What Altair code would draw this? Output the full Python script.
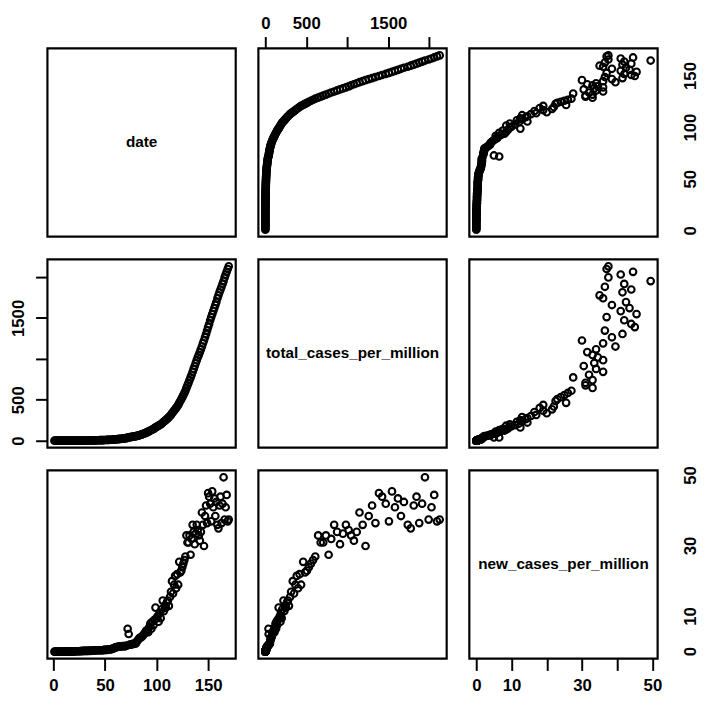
import altair as alt
import pandas as pd

date = list(range(1, 171))

total_cases_per_million = [
    0.1, 0.1, 0.1, 0.1, 0.1, 0.1, 0.1, 0.1, 0.1, 0.1,
    0.2, 0.2, 0.2, 0.2, 0.3, 0.3, 0.3, 0.4, 0.4, 0.4,
    0.5, 0.6, 0.7, 0.8, 0.9, 1.0, 1.2, 1.3, 1.5, 1.7,
    1.9, 2.1, 2.3, 2.5, 2.8, 3.0, 3.3, 3.6, 3.9, 4.2,
    4.4, 4.8, 5.2, 5.6, 6.0, 6.4, 6.8, 7.2, 7.7, 8.2,
    8.7, 9.2, 9.8, 10.4, 11.0, 11.7, 12.5, 13.4, 14.4, 15.6,
    16.9, 18.2, 19.6, 21.0, 22.5, 24.0, 25.6, 27.2, 28.7, 30.3,
    32.0, 38.5, 40.5, 42.5, 44.5, 46.6, 48.8, 51.0, 53.3, 55.6,
    58.5, 61.8, 65.5, 69.5, 73.5, 77.8, 82.5, 87.5, 93.0, 99.0,
    105.0, 111.0, 117.5, 124.0, 130.5, 137.0, 143.5, 150.0, 162.5, 169.0,
    176.0, 183.5, 191.0, 199.0, 207.0, 221.5, 231.0, 241.5, 252.5, 264.0,
    276.0, 288.5, 301.5, 315.0, 335.0, 350.5, 366.5, 383.0, 400.0, 418.0,
    437.0, 462.5, 485.0, 508.0, 532.0, 557.0, 583.0, 610.0, 645.0, 676.0,
    707.0, 740.0, 773.0, 805.0, 841.0, 877.0, 912.0, 948.0, 984.0, 1018.0,
    1048.0, 1082.0, 1116.0, 1150.0, 1189.0, 1224.0, 1263.0, 1304.0, 1345.0, 1388.0,
    1426.0, 1471.0, 1510.0, 1547.0, 1583.0, 1620.0, 1657.0, 1693.0, 1740.0, 1776.0,
    1813.0, 1847.0, 1880.0, 1915.0, 1950.0, 1995.0, 2030.0, 2063.0, 2097.0, 2130.0,
]

new_cases_per_million = [
    0, 0, 0, 0, 0, 0, 0, 0, 0, 0,
    0.1, 0, 0, 0, 0.1, 0, 0, 0.1, 0, 0,
    0.1, 0.1, 0.1, 0.1, 0.1, 0.1, 0.2, 0.1, 0.2, 0.2,
    0.2, 0.2, 0.2, 0.2, 0.3, 0.2, 0.3, 0.3, 0.3, 0.3,
    0.4, 0.4, 0.4, 0.4, 0.4, 0.4, 0.4, 0.4, 0.5, 0.5,
    0.5, 0.5, 0.6, 0.6, 0.6, 0.7, 0.8, 0.9, 1.0, 1.2,
    1.3, 1.3, 1.4, 1.4, 1.5, 1.5, 1.6, 1.6, 1.5, 1.6,
    1.7, 6.5, 5.0, 2.0, 2.0, 2.1, 2.2, 2.2, 2.3, 2.3,
    2.9, 3.3, 3.7, 4.0, 4.0, 4.3, 4.7, 5.0, 5.5, 6.0,
    6.0, 5.5, 7.0, 8.0, 6.5, 8.5, 7.5, 9.0, 12.5, 9.5,
    10.0, 8.5, 11.0, 9.5, 12.0, 14.5, 11.5, 13.0, 12.5, 14.0,
    14.5, 13.0, 15.5, 17.0, 20.0, 16.5, 19.0, 21.5, 18.0, 22.0,
    19.0, 25.5, 22.5, 23.0, 24.0, 25.0, 26.0, 27.0, 33.0, 31.0,
    31.0, 33.0, 27.5, 32.0, 36.0, 34.0, 30.5, 33.5, 36.0, 34.5,
    33.0, 31.5, 34.0, 39.5, 36.0, 30.0, 38.5, 41.5, 36.5, 45.0,
    44.0, 42.0, 37.0, 45.5, 41.0, 43.5, 38.5, 42.5, 36.0, 35.0,
    41.5, 44.0, 36.5, 42.0, 49.5, 37.5, 41.0, 44.5, 37.0, 37.5,
]

names = ["date", "total_cases_per_million", "new_cases_per_million"]
tick_values = {
    "date": [0, 50, 100, 150],
    "total_cases_per_million": [0, 500, 1000, 1500, 2000],
    "new_cases_per_million": [0, 10, 20, 30, 40, 50],
}
hidden_labels = {
    "date": [],
    "total_cases_per_million": [1000, 2000],
    "new_cases_per_million": [20, 40],
}

df = pd.DataFrame({
    "date": date,
    "total_cases_per_million": total_cases_per_million,
    "new_cases_per_million": new_cases_per_million,
})
series = {n: df[n].tolist() for n in names}


def domain(v):
    lo, hi = min(v), max(v)
    r = hi - lo
    return [lo - 0.04 * r, hi + 0.04 * r]


W, H = 191, 191
FONT = "Liberation Sans, Arial, Helvetica, sans-serif"
RIGHT_LABEL_X = W + 34


def scale_for(var):
    return alt.Scale(domain=domain(series[var]), nice=False, zero=False)


def make_axis(var, orient):
    kw = dict(
        orient=orient, values=tick_values[var], format="d", title=None,
        tickSize=12, tickWidth=2, tickColor="black", domain=False, grid=False,
        labelFont=FONT, labelFontSize=17, labelFontWeight="bold",
        labelColor="black", labelFlush=False, labelOverlap=False,
    )
    if hidden_labels[var]:
        kw["labelExpr"] = "indexof(%s, datum.value) >= 0 ? '' : datum.label" % (
            str(hidden_labels[var]))
    if orient == "top":
        kw.update(labelPadding=4.5)
    elif orient == "bottom":
        kw.update(labelPadding=7)
    elif orient == "left":
        kw.update(labelAngle=270, labelAlign="center", labelBaseline="middle",
                  labelPadding=17)
    elif orient == "right":
        kw.pop("labelExpr", None)
        kw.update(labels=False)
    return alt.Axis(**kw)


def right_labels(var):
    vals = [v for v in tick_values[var] if v not in hidden_labels[var]]
    lab_df = pd.DataFrame({"tick": vals, "text": [str(v) for v in vals]})
    return alt.Chart(lab_df).mark_text(
        angle=270, align="center", baseline="middle", font=FONT,
        fontSize=17, fontWeight="bold", color="black",
    ).encode(
        y=alt.Y("tick:Q", scale=scale_for(var), axis=None),
        text="text:N",
        x=alt.value(RIGHT_LABEL_X),
    )


def x_axis(i, j):
    if i == 0 and j == 1:
        return make_axis(names[j], "top")
    if i == 2 and j in (0, 2):
        return make_axis(names[j], "bottom")
    return None


def y_axis(i, j):
    if j == 2 and i in (0, 2):
        return make_axis(names[i], "right")
    if j == 0 and i == 1:
        return make_axis(names[i], "left")
    return None


panels = []
for i in range(3):
    for j in range(3):
        xv, yv = names[j], names[i]
        xa, ya = x_axis(i, j), y_axis(i, j)
        xenc = alt.X(xv, type="quantitative", scale=scale_for(xv), axis=xa)
        yenc = alt.Y(yv, type="quantitative", scale=scale_for(yv), axis=ya)
        if i == j:
            layers = [alt.Chart(df).mark_point(opacity=0).encode(x=xenc, y=yenc)]
            layers.append(alt.Chart(pd.DataFrame({"label": [names[i]]})).mark_text(
                font=FONT, fontSize=15.5, fontWeight="bold", color="black",
                align="center", baseline="middle",
            ).encode(text="label:N", x=alt.value(W / 2), y=alt.value(H / 2)))
        else:
            layers = [alt.Chart(df).mark_point(
                shape="circle", filled=False, stroke="black", strokeWidth=2.1,
                size=45, opacity=1,
            ).encode(x=xenc, y=yenc)]
        if j == 2 and i in (0, 2):
            layers.append(right_labels(yv))
        p = alt.layer(*layers).properties(width=W, height=H)
        panels.append(p)

chart = alt.concat(*panels, columns=3, spacing=23, bounds="flush").properties(
    padding={"left": 0, "top": 0, "right": 0, "bottom": 0},
    background="white",
).configure_view(stroke="black", strokeWidth=2.2)

chart.save("out.html", embed_options={"renderer": "svg", "actions": False})
